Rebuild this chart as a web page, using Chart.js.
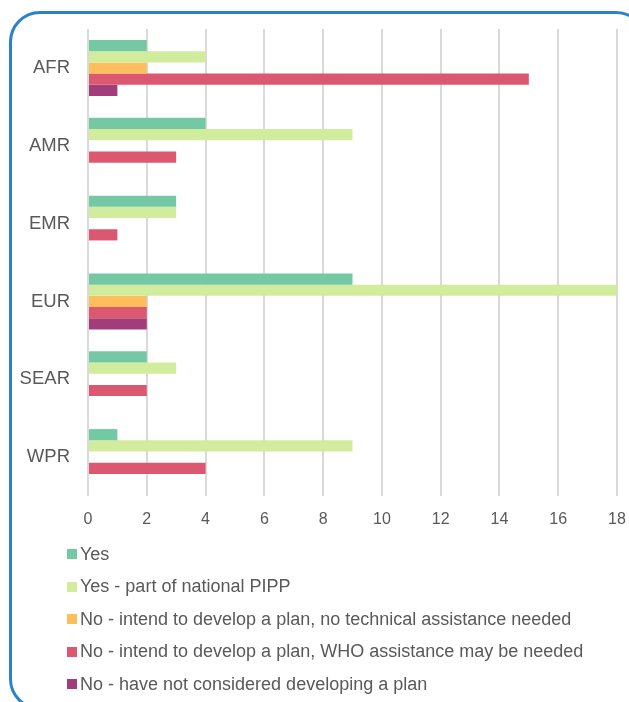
<!DOCTYPE html>
<html>
<head>
<meta charset="utf-8">
<script src="https://cdn.jsdelivr.net/npm/chart.js@4/dist/chart.umd.min.js"></script>
<style>
  html, body { margin: 0; padding: 0; background: #fff; }
  body { width: 629px; height: 702px; position: relative; overflow: hidden; font-family: "Liberation Sans", Arial, sans-serif; }
  #frame { position: absolute; left: 9px; top: 11px; border: 3px solid #2A83C8; border-radius: 31px; box-sizing: border-box; width: 638px; height: 699px; }
  #wrap { position: absolute; left: 0; top: 0; width: 660px; height: 540px; }
  #legend { position: absolute; left: 67px; top: 538px; color: #595959; font-size: 18px; }
  .item { height: 32.5px; display: flex; align-items: center; white-space: nowrap; }
  .box { width: 10px; height: 10px; margin-right: 3px; display: inline-block; }
</style>
</head>
<body>
<div id="frame"></div>
<div id="wrap"><canvas id="c"></canvas></div>
<div id="legend"></div>
<script>
const categories = ["AFR", "AMR", "EMR", "EUR", "SEAR", "WPR"];
const seriesNames = [
  "Yes",
  "Yes - part of national PIPP",
  "No - intend to develop a plan, no technical assistance needed",
  "No - intend to develop a plan, WHO assistance may be needed",
  "No - have not considered developing a plan"
];
const yesValues        = [2, 4, 3, 9, 2, 1];
const pippValues       = [4, 9, 3, 18, 3, 9];
const noTechValues     = [2, 0, 0, 2, 0, 0];
const noWhoValues      = [15, 3, 1, 2, 2, 4];
const notConsidered    = [1, 0, 0, 2, 0, 0];
const xTicks = [0, 2, 4, 6, 8, 10, 12, 14, 16, 18];
const colors = ["#74C9A4", "#D2EC9E", "#FDBE5B", "#DC5870", "#A23C7B"];

const allValues = [yesValues, pippValues, noTechValues, noWhoValues, notConsidered];
const datasets = allValues.map((v, i) => ({
  label: seriesNames[i],
  data: v,
  backgroundColor: colors[i],
  borderWidth: 0,
  categoryPercentage: 0.72,
  barPercentage: 1.0
}));

const legend = document.getElementById('legend');
seriesNames.forEach((n, i) => {
  const d = document.createElement('div');
  d.className = 'item';
  d.innerHTML = '<span class="box" style="background:' + colors[i] + '"></span><span>' + n + '</span>';
  legend.appendChild(d);
});

new Chart(document.getElementById('c'), {
  type: 'bar',
  data: { labels: categories, datasets },
  options: {
    indexAxis: 'y',
    responsive: true,
    maintainAspectRatio: false,
    animation: false,
    layout: { padding: { top: 29, right: 43, left: 0, bottom: 0 } },
    plugins: { legend: { display: false }, tooltip: { enabled: false } },
    scales: {
      x: {
        min: 0, max: 18,
        afterBuildTicks: (s) => { s.ticks = xTicks.map(v => ({ value: v })); },
        afterFit: (s) => { s.height = 44; },
        grid: { color: '#D9D9D9', lineWidth: 2, drawTicks: false },
        border: { display: false },
        ticks: { color: '#595959', font: { family: 'Liberation Sans', size: 16 }, padding: 14 }
      },
      y: {
        afterFit: (s) => { s.width = 88; },
        grid: { display: false, drawTicks: false },
        border: { display: false },
        ticks: { color: '#595959', font: { family: 'Liberation Sans', size: 18.5 }, padding: 18 }
      }
    }
  }
});
</script>
</body>
</html>
